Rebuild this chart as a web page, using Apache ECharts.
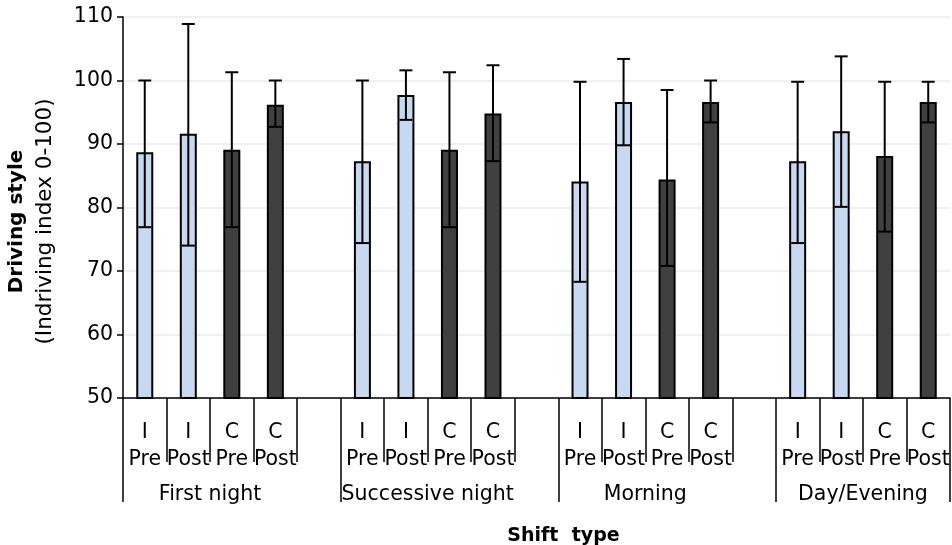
<!DOCTYPE html>
<html>
<head>
<meta charset="utf-8">
<script src="https://cdn.jsdelivr.net/npm/echarts@6/dist/echarts.min.js"></script>
<style>
html,body{margin:0;padding:0;background:#fff;}
#chart{width:952px;height:545px;}
</style>
</head>
<body>
<div id="chart"></div>
<script>
// ---- data ----
var groups = ['First night', 'Successive night', 'Morning', 'Day/Evening'];
var conditions = ['I\nPre', 'I\nPost', 'C\nPre', 'C\nPost'];
var yTicks = [50, 60, 70, 80, 90, 100, 110];

var meanFirstNight = [88.7, 91.6, 89.1, 96.2];
var meanSuccessive = [87.3, 97.7, 89.1, 94.8];
var meanMorning    = [84.1, 96.6, 84.4, 96.6];
var meanDayEvening = [87.3, 92.0, 88.1, 96.6];

var lowFirstNight = [76.9, 74.0, 76.9, 92.7];
var lowSuccessive = [74.4, 93.8, 76.9, 87.3];
var lowMorning    = [68.3, 89.8, 70.8, 93.4];
var lowDayEvening = [74.4, 80.1, 76.2, 93.4];

var highFirstNight = [100.0, 108.9, 101.3, 100.0];
var highSuccessive = [100.0, 101.6, 101.3, 102.4];
var highMorning    = [99.8, 103.4, 98.5, 100.0];
var highDayEvening = [99.8, 103.8, 99.8, 99.8];

// ---- build ----
var means = [meanFirstNight, meanSuccessive, meanMorning, meanDayEvening];
var lows = [lowFirstNight, lowSuccessive, lowMorning, lowDayEvening];
var highs = [highFirstNight, highSuccessive, highMorning, highDayEvening];

var categories = [], barData = [], errData = [];
var groupTicks = [], groupCenters = [];
groups.forEach(function (g, gi) {
  var start = categories.length;
  groupTicks.push(start);
  conditions.forEach(function (c, ci) {
    var idx = categories.length;
    categories.push(c);
    barData.push(means[gi][ci]);
    errData.push([idx, lows[gi][ci], highs[gi][ci]]);
  });
  groupCenters.push(start + conditions.length / 2);
  if (gi < groups.length - 1) {
    categories.push('');
    barData.push('-');
  }
});
groupTicks.push(categories.length);

var LIGHT = '#c6d9f0', DARK = '#404040';
var FONT = 'DejaVu Sans';

var chart = echarts.init(document.getElementById('chart'), null, {renderer: 'canvas'});
chart.setOption({
  animation: false,
  textStyle: {fontFamily: FONT},
  grid: {left: 123, right: 2, top: 17, bottom: 147, containLabel: false, outerBoundsMode: 'none'},
  xAxis: [{
    type: 'category',
    data: categories,
    boundaryGap: true,
    axisLine: {show: true, lineStyle: {color: '#000', width: 1.5}},
    axisTick: {show: true, interval: 0, length: 64, lineStyle: {color: '#000', width: 1.5}},
    axisLabel: {interval: 0, fontSize: 20.5, lineHeight: 27, margin: 21, color: '#000', fontFamily: FONT},
    splitLine: {show: false}
  }, {
    type: 'value',
    position: 'bottom',
    min: 0,
    max: categories.length,
    axisLine: {show: false},
    axisTick: {show: true, customValues: groupTicks, length: 104, lineStyle: {color: '#000', width: 1.5}},
    axisLabel: {
      show: true, customValues: groupCenters, margin: 86, fontSize: 20.5, color: '#000', fontFamily: FONT,
      formatter: function (v) {
        var i = groupCenters.indexOf(v);
        return i >= 0 ? groups[i] : '';
      }
    },
    splitLine: {show: false},
    name: 'Shift  type',
    nameLocation: 'middle',
    nameGap: 129,
    nameTextStyle: {fontWeight: 'bold', fontSize: 19, color: '#000', fontFamily: FONT, padding: [0, 0, 0, 54]}
  }],
  yAxis: {
    type: 'value',
    min: yTicks[0],
    max: yTicks[yTicks.length - 1],
    interval: 10,
    axisLine: {show: true, lineStyle: {color: '#000', width: 1.5}},
    axisTick: {show: true, length: 6, lineStyle: {color: '#000', width: 1.5}},
    axisLabel: {fontSize: 20.5, color: '#000', margin: 10, fontFamily: FONT},
    splitLine: {show: true, lineStyle: {color: '#ebebeb', width: 1.5}},
    name: '{b|Driving style}\n{n|(Indriving index 0-100)}',
    nameLocation: 'middle',
    nameGap: 64,
    nameTextStyle: {
      color: '#000', fontFamily: FONT, padding: [0, 28, 0, 0],
      rich: {
        b: {fontWeight: 'bold', fontSize: 20, lineHeight: 28, color: '#000', fontFamily: FONT},
        n: {fontSize: 21.5, lineHeight: 28, color: '#000', fontFamily: FONT}
      }
    }
  },
  series: [{
    type: 'bar',
    xAxisIndex: 0,
    data: barData,
    barWidth: 17,
    itemStyle: {
      borderColor: '#000',
      borderWidth: 2,
      color: function (p) { return categories[p.dataIndex].charAt(0) === 'I' ? LIGHT : DARK; }
    },
    z: 2
  }, {
    type: 'custom',
    xAxisIndex: 0,
    data: errData,
    z: 3,
    renderItem: function (params, api) {
      var x = api.value(0);
      var lo = api.coord([x, api.value(1)]);
      var hi = api.coord([x, api.value(2)]);
      var hw = 6.5;
      var st = {stroke: '#000', lineWidth: 2};
      return {
        type: 'group',
        children: [
          {type: 'line', shape: {x1: lo[0], y1: lo[1], x2: hi[0], y2: hi[1]}, style: st},
          {type: 'line', shape: {x1: hi[0] - hw, y1: hi[1], x2: hi[0] + hw, y2: hi[1]}, style: st},
          {type: 'line', shape: {x1: lo[0] - hw, y1: lo[1], x2: lo[0] + hw, y2: lo[1]}, style: st}
        ]
      };
    }
  }]
});
</script>
</body>
</html>
